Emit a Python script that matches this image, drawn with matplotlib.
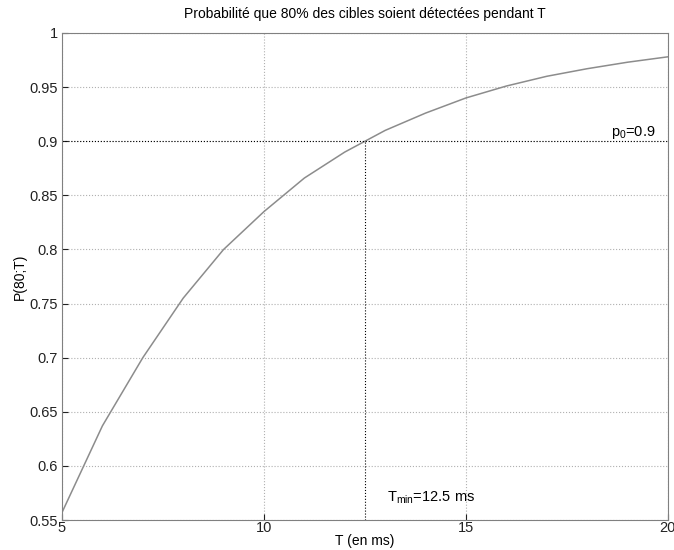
import matplotlib
matplotlib.use('Agg')
import matplotlib.pyplot as plt

plt.rcParams['font.family'] = ['Liberation Sans', 'DejaVu Sans']

# values
T = [5, 6, 7, 8, 9, 10, 11, 12, 13, 14, 15, 16, 17, 18, 19, 20]
P = [0.557, 0.637, 0.700, 0.755, 0.800, 0.835, 0.866, 0.890,
     0.910, 0.926, 0.940, 0.951, 0.960, 0.967, 0.973, 0.978]
p0 = 0.9
t_min = 12.5
x_ticks = [5, 10, 15, 20]
y_ticks = [0.55, 0.6, 0.65, 0.7, 0.75, 0.8, 0.85, 0.9, 0.95, 1]
y_labels = ['0.55', '0.6', '0.65', '0.7', '0.75', '0.8', '0.85', '0.9', '0.95', '1']

fig = plt.figure(figsize=(6.74, 5.5), dpi=100)
ax = fig.add_axes([0.092, 0.0545, 0.899, 0.8855])

ax.plot(T, P, color='#8c8c8c', linewidth=1.1)
ax.axhline(p0, color='black', linestyle=':', linewidth=0.8)
ax.plot([t_min, t_min], [0.55, p0], color='black', linestyle=':', linewidth=0.8)

ax.set_xlim(5, 20)
ax.set_ylim(0.55, 1)
ax.set_xticks(x_ticks)
ax.set_yticks(y_ticks)
ax.set_yticklabels(y_labels)
ax.grid(True, color='#b0b0b0', linestyle=':', linewidth=0.8)
ax.tick_params(direction='in', length=4, labelsize=10.5, colors='#222222')
ax.tick_params(axis='x', pad=1)
ax.tick_params(axis='y', pad=3)
for s in ax.spines.values():
    s.set_color('#808080')

ax.text(18.6, 0.905, '$\\mathregular{p_0}$=0.9', fontsize=10.5)
ax.text(13.05, 0.567, '$\\mathregular{T_{min}}$=12.5 ms', fontsize=10.5)

ax.set_title('Probabilité que 80% des cibles soient détectées pendant T', fontsize=10, pad=11)
ax.set_xlabel('T (en ms)', fontsize=10, labelpad=-1)
ax.set_ylabel('P(80;T)', fontsize=10, labelpad=2)

fig.savefig('out.png', dpi=100)
